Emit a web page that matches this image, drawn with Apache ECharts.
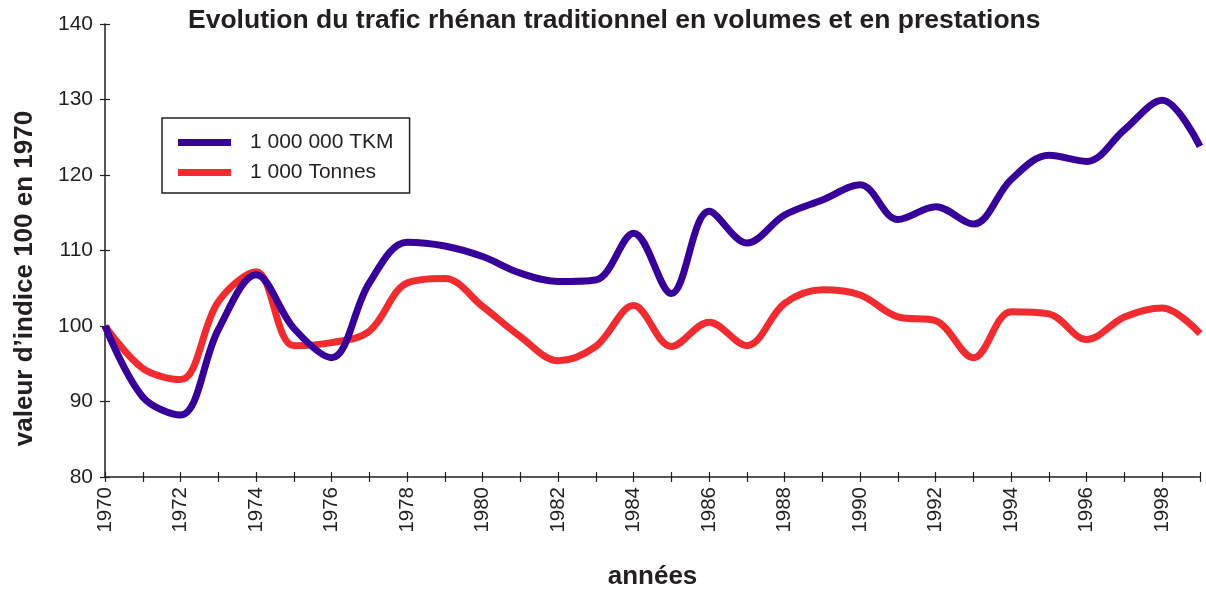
<!DOCTYPE html>
<html>
<head>
<meta charset="utf-8">
<script src="https://cdn.jsdelivr.net/npm/echarts@6/dist/echarts.min.js"></script>
<style>
html, body { margin: 0; padding: 0; background: #fff; }
#chart { width: 1206px; height: 592px; }
</style>
</head>
<body>
<div id="chart"></div>
<script>
// ******** donnees ********
var years = [1970, 1971, 1972, 1973, 1974, 1975, 1976, 1977, 1978, 1979,
             1980, 1981, 1982, 1983, 1984, 1985, 1986, 1987, 1988, 1989,
             1990, 1991, 1992, 1993, 1994, 1995, 1996, 1997, 1998, 1999];
var tkm = [100, 90.6, 88.2, 99.5, 106.8, 99.7, 95.8, 105.7, 111.1, 110.6,
           109.2, 107.0, 105.9, 106.1, 112.3, 104.3, 115.2, 111.0, 114.7, 116.7,
           118.7, 114.1, 115.8, 113.5, 119.4, 122.6, 121.8, 126.0, 129.9, 123.8];
var tonnes = [100, 94.4, 92.9, 103.2, 107.2, 97.4, 97.8, 99.3, 105.7, 106.3,
              102.6, 98.6, 95.4, 97.3, 102.7, 97.3, 100.5, 97.4, 103.0, 104.8,
              104.1, 101.2, 100.7, 95.8, 101.9, 101.6, 98.2, 101.2, 102.4, 99.0];
var yTicks = [80, 90, 100, 110, 120, 130, 140];

var seriesNames = ['1 000 000 TKM', '1 000 Tonnes'];
var axisColor = '#231f20';
var font = 'Liberation Sans, Arial, sans-serif';

// grille
var gLeft = 105, gRight = 6, gTop = 24, gBottom = 115;
var gW = 1206 - gLeft - gRight;
var gH = 592 - gTop - gBottom;

function pairs(vals) {
    var out = [];
    for (var i = 0; i < years.length; i++) {
        out.push([years[i], vals[i]]);
    }
    return out;
}

var chart = echarts.init(document.getElementById('chart'));

var xBase = {
    type: 'value',
    min: years[0],
    max: years[years.length - 1],
    interval: 1,
    splitLine: { show: false }
};
var yBase = {
    type: 'value',
    min: yTicks[0],
    max: yTicks[yTicks.length - 1],
    interval: 10,
    splitLine: { show: false }
};
var tickStyle = { color: axisColor, width: 1.2 };

var option = {
    animation: false,
    backgroundColor: '#fff',
    title: {
        text: 'Evolution du trafic rhénan traditionnel en volumes et en prestations',
        left: 188,
        top: 7,
        padding: 0,
        textStyle: { fontFamily: font, fontSize: 26.5, fontWeight: 'bold', color: '#231f20' }
    },
    grid: {
        left: gLeft, right: gRight, top: gTop, bottom: gBottom,
        outerBoundsMode: 'none'
    },
    legend: {
        orient: 'vertical',
        left: 162,
        top: 118,
        data: seriesNames,
        icon: 'rect',
        itemWidth: 53,
        itemHeight: 7,
        itemGap: 9,
        borderColor: axisColor,
        borderWidth: 1.5,
        padding: [14, 16, 10, 16],
        textStyle: { fontFamily: font, fontSize: 21, color: '#231f20', padding: [0, 0, 0, 14] }
    },
    xAxis: [
        Object.assign({}, xBase, {
            position: 'bottom',
            name: 'années',
            nameLocation: 'middle',
            nameGap: 87,
            nameTextStyle: { fontFamily: font, fontSize: 26, fontWeight: 'bold', color: '#231f20' },
            axisLine: { lineStyle: { color: axisColor, width: 1.5 } },
            axisTick: { length: 5, lineStyle: tickStyle },
            axisLabel: {
                rotate: 90,
                margin: 10,
                fontFamily: font,
                fontSize: 20.5,
                color: '#231f20',
                formatter: function (v) { return v % 2 === 0 ? String(v) : ''; }
            }
        }),
        // ticks vers le haut (croix)
        Object.assign({}, xBase, {
            position: 'top',
            offset: -gH,
            axisLine: { show: false },
            axisTick: { length: 5, lineStyle: tickStyle },
            axisLabel: { show: false }
        })
    ],
    yAxis: [
        Object.assign({}, yBase, {
            position: 'left',
            name: 'valeur d’indice 100 en 1970',
            nameLocation: 'middle',
            nameGap: 67,
            nameTextStyle: {
                fontFamily: font, fontSize: 26, fontWeight: 'bold', color: '#231f20',
                padding: [0, 56, 0, 0]
            },
            axisLine: { show: true, lineStyle: { color: axisColor, width: 1.5 } },
            axisTick: { show: true, length: 5, lineStyle: tickStyle },
            axisLabel: { margin: 12, fontFamily: font, fontSize: 21, color: '#231f20' }
        }),
        // ticks vers l'interieur (croix)
        Object.assign({}, yBase, {
            position: 'right',
            offset: -gW,
            axisLine: { show: false },
            axisTick: { show: true, length: 5, lineStyle: tickStyle },
            axisLabel: { show: false }
        })
    ],
    series: [
        {
            name: seriesNames[0],
            type: 'line',
            smooth: 0.35,
            showSymbol: false,
            data: pairs(tkm),
            itemStyle: { color: '#38009a' },
            lineStyle: { color: '#38009a', width: 7 },
            z: 3
        },
        {
            name: seriesNames[1],
            type: 'line',
            smooth: 0.35,
            showSymbol: false,
            data: pairs(tonnes),
            itemStyle: { color: '#f02c30' },
            lineStyle: { color: '#f02c30', width: 7 },
            z: 2
        }
    ]
};

chart.setOption(option);
</script>
</body>
</html>
